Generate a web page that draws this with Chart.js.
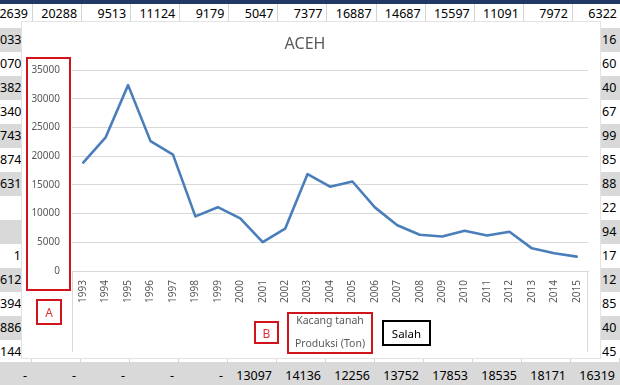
<!DOCTYPE html>
<html>
<head>
<meta charset="utf-8">
<title>ACEH</title>
<script src="https://cdn.jsdelivr.net/npm/chart.js@4.4.1/dist/chart.umd.min.js"></script>
<style>
    html, body { margin: 0; padding: 0; }
    body {
        width: 620px; height: 385px; position: relative; overflow: hidden;
        background: #fff; font-family: 'Noto Sans', 'DejaVu Sans', sans-serif;
    }
    .sel { position: absolute; font-size: 12.5px; color: #000; white-space: nowrap; }
    .garis { position: absolute; background: #d4d4d4; }
    #navy { position: absolute; left: 0; top: 0; width: 620px; height: 4px; background: #1f3864; overflow: hidden; }
    #navy span { position: absolute; top: -11px; font-size: 12.5px; font-weight: bold; color: #fff; line-height: 14px; }
    #kotakGrafik {
        position: absolute; left: 22px; top: 22px; width: 578px; height: 336px;
        background: #fff; box-shadow: 0 0 0 1px #e3e3e3;
    }
    #kotakGrafik canvas { position: absolute; left: 0; top: 0; }
    .kotak { position: absolute; box-sizing: border-box; border: 2px solid #d0141b; }
    .teks { position: absolute; white-space: nowrap; font-size: 10.5px; color: #595959; transform: translate(-50%, -50%); }
</style>
</head>
<body>
<div id="lembar"></div>
<div id="kotakGrafik"><canvas id="grafik" width="578" height="336"></canvas></div>
<div id="tanda"></div>
<script>
// 1. Data grafik (produksi kacang tanah Aceh, ton)
const tahun = ['1993', '1994', '1995', '1996', '1997', '1998', '1999', '2000', '2001', '2002', '2003', '2004',
    '2005', '2006', '2007', '2008', '2009', '2010', '2011', '2012', '2013', '2014', '2015'];
const produksi = [18900, 23300, 32400, 22639, 20288, 9513, 11124, 9179, 5047, 7377, 16887, 14687,
    15597, 11091, 7972, 6322, 6000, 7000, 6200, 6850, 3950, 3100, 2500];
const sumbuYMin = 0;
const sumbuYMax = 35000;
const sumbuYLangkah = 5000;

// 2. Isi sel lembar kerja di sekitar grafik
const judulKolomAtas = ['1996', '1997', '1998', '1999', '2000', '2001', '2002', '2003', '2004', '2005', '2006', '2007', '2008'];
const barisAtas = ['2639', '20288', '9513', '11124', '9179', '5047', '7377', '16887', '14687', '15597', '11091', '7972', '6322'];
const barisBawah = ['-', '-', '-', '-', '-', '13097', '14136', '12256', '13752', '17853', '18535', '18171', '16319'];
const kolomKiri = ['033', '070', '382', '340', '743', '874', '631', '', '', '1', '612', '394', '886', '144'];
const kolomKanan = ['16', '60', '40', '67', '99', '85', '88', '22', '94', '17', '12', '85', '40', '45'];

const lembar = document.getElementById('lembar');
const tambah = (html) => lembar.insertAdjacentHTML('beforeend', html);

// baris judul (hanya terlihat sedikit di atas)
let navy = '<div id="navy">';
judulKolomAtas.forEach((t, i) => {
    const kanan = 28 + 49.08 * i;
    navy += `<span style="left:${kanan - 40}px;width:40px;text-align:right">${t}</span>`;
});
navy += '</div>';
tambah(navy);

// baris angka paling atas
barisAtas.forEach((t, i) => {
    const kanan = 28 + 49.08 * i;
    tambah(`<div class="sel" style="left:${kanan - 46}px;width:46px;top:5px;line-height:18px;text-align:right">${t}</div>`);
    tambah(`<div class="garis" style="left:${Math.round(kanan + 4)}px;top:4px;width:1px;height:18px"></div>`);
});

// kolom kiri dan kanan, berselang-seling abu-abu
for (let i = 0; i < 14; i++) {
    const atas = 28 + 24 * i;
    const abu = i % 2 === 0 ? '#d9d9d9' : '#fff';
    tambah(`<div style="position:absolute;left:0;top:${atas}px;width:22px;height:24px;background:${abu}"></div>`);
    tambah(`<div style="position:absolute;left:600px;top:${atas}px;width:20px;height:24px;background:${abu}"></div>`);
    tambah(`<div class="sel" style="left:0;width:21px;top:${atas}px;line-height:24px;text-align:right">${kolomKiri[i]}</div>`);
    tambah(`<div class="sel" style="left:602px;top:${atas}px;line-height:24px">${kolomKanan[i]}</div>`);
}

// baris abu-abu paling bawah
tambah('<div style="position:absolute;left:0;top:362px;width:620px;height:23px;background:#d9d9d9"></div>');
barisBawah.forEach((t, i) => {
    tambah(`<div class="garis" style="left:${Math.round(30.5 + 49 * i)}px;top:358px;width:1px;height:4px"></div>`);
    if (t === '-') {
        tambah(`<div class="sel" style="left:${25 + 49 * i - 10}px;width:20px;top:365px;line-height:22px;text-align:center">${t}</div>`);
    } else {
        const kanan = 272 + 49 * (i - 5);
        tambah(`<div class="sel" style="left:${kanan - 46}px;width:46px;top:365px;line-height:22px;text-align:right">${t}</div>`);
    }
});

// 3. Grafik garis dengan Chart.js
const ctx = document.getElementById('grafik').getContext('2d');
new Chart(ctx, {
    type: 'line',
    data: {
        labels: tahun,
        datasets: [{
            label: 'Produksi (Ton)',
            data: produksi,
            borderColor: '#4a7ebb',
            borderWidth: 2.6,
            pointRadius: 0,
            tension: 0,
            borderJoinStyle: 'round',
            borderCapStyle: 'round',
            fill: false
        }]
    },
    options: {
        responsive: false,
        animation: false,
        devicePixelRatio: 1,
        layout: { padding: { left: 0, right: 12, top: 0, bottom: 0 } },
        plugins: {
            legend: { display: false },
            tooltip: { enabled: false },
            title: {
                display: true,
                text: 'ACEH',
                color: '#595959',
                font: { family: 'Noto Sans', size: 16, weight: 'normal' },
                padding: { top: 13, bottom: 16 }
            }
        },
        scales: {
            x: {
                offset: true,
                grid: { display: false, drawTicks: false },
                border: { display: true, color: '#d9d9d9' },
                ticks: {
                    autoSkip: false, minRotation: 90, maxRotation: 90, padding: 9,
                    color: '#595959', font: { family: 'Noto Sans', size: 10 }
                },
                afterFit: (s) => { s.height = 87; }
            },
            y: {
                min: sumbuYMin,
                max: sumbuYMax,
                grid: { color: '#d9d9d9', drawTicks: false },
                border: { display: false },
                ticks: {
                    stepSize: sumbuYLangkah, padding: 12,
                    color: '#595959', font: { family: 'Noto Sans', size: 10 },
                    callback: (v) => String(v)
                },
                afterFit: (s) => { s.width = 50; }
            }
        }
    }
});

// 4. Tanda koreksi (kotak merah / hitam) dan keterangan
const tanda = document.getElementById('tanda');
const kotak = (x, y, w, h, warna) =>
    tanda.insertAdjacentHTML('beforeend',
        `<div class="kotak" style="left:${x}px;top:${y}px;width:${w}px;height:${h}px;border-color:${warna}"></div>`);
const teks = (t, x, y, gaya) =>
    tanda.insertAdjacentHTML('beforeend', `<div class="teks" style="left:${x}px;top:${y}px;${gaya || ''}">${t}</div>`);

// garis tepi area plot di bawah sumbu
tanda.insertAdjacentHTML('beforeend', '<div class="garis" style="left:72px;top:271px;width:1px;height:81px;background:#d9d9d9"></div>');
tanda.insertAdjacentHTML('beforeend', '<div class="garis" style="left:587px;top:271px;width:1px;height:81px;background:#d9d9d9"></div>');

kotak(26, 57, 45, 234, '#d0141b');
kotak(36, 299, 26, 26, '#d0141b');
teks('A', 49, 312, 'color:#e0303a;font-size:12px');

kotak(254, 321, 25, 23, '#d0141b');
teks('B', 266.5, 332.5, 'color:#e0303a;font-size:12px');

kotak(287, 312, 86, 42, '#d0141b');
teks('Kacang tanah', 330, 320, '');
teks('Produksi (Ton)', 330, 343, '');

kotak(382, 320, 49, 26, '#000');
teks('Salah', 406.5, 333, 'color:#000;font-size:11.5px');
</script>
</body>
</html>
